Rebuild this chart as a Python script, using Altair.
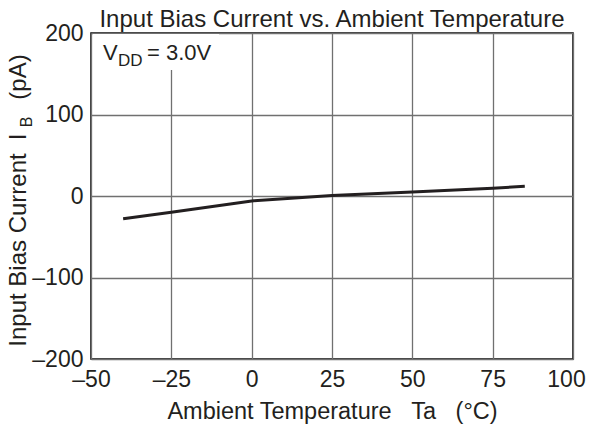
import altair as alt
import pandas as pd

temps = [-40, -25, 0, 25, 50, 75, 85]
ib_pa = [-28, -20, -6, 0.5, 5, 9.5, 12]

x_ticks = [-50, -25, 0, 25, 50, 75, 100]
y_ticks = [-200, -100, 0, 100, 200]

NB = "\u00a0"
title_text = "Input Bias Current vs. Ambient Temperature"
x_title = f"Ambient Temperature{NB*3}Ta{NB*3}(°C)"

FONT = "Liberation Sans"
INK = "#231f20"
W, H = 482, 326

df = pd.DataFrame({"t": temps, "ib": ib_pa})

minus_expr = "datum.value < 0 ? '\u2013' + abs(datum.value) : datum.label"

base = alt.Chart(df)

line = base.mark_line(color=INK, strokeWidth=3).encode(
    x=alt.X("t:Q", scale=alt.Scale(domain=[-50, 100], nice=False),
            axis=alt.Axis(values=x_ticks, title=x_title, labelExpr=minus_expr,
                          grid=True, ticks=False, domain=False, labelFlush=False,
                          labelOffset={"condition": {"test": "datum.value == 100", "value": -7}, "value": 0},
                          labelPadding=9, titlePadding=8)),
    y=alt.Y("ib:Q", scale=alt.Scale(domain=[-200, 200], nice=False),
            axis=alt.Axis(values=y_ticks, title=None, labelExpr=minus_expr,
                          grid=True, ticks=False, domain=False, labelFlush=False,
                          labelPadding=8)),
)

one = pd.DataFrame({"k": [0]})
cover = alt.Chart(one).mark_rect(color="white").encode(
    x=alt.value(2), x2=alt.value(128), y=alt.value(1), y2=alt.value(37)
)

def txt(s, x, y, size, angle=0, align="left", baseline="alphabetic"):
    return alt.Chart(one).mark_text(
        text=s, font=FONT, fontSize=size, color=INK, angle=angle,
        align=align, baseline=baseline
    ).encode(x=alt.value(x), y=alt.value(y))

labels = [
    txt(title_text, W / 2, -6, 24, align="center"),
    txt("V", 12, 27, 22),
    txt("DD", 27, 33, 17),
    txt("= 3.0V", 56, 27, 22),
    txt("Input Bias Current", -65, 217, 24, angle=270, align="center"),
    txt("I", -65, 104, 24, angle=270, align="center"),
    txt("B", -59, 89, 16, angle=270, align="center"),
    txt("(pA)", -65, 44, 24, angle=270, align="center"),
]

chart = alt.layer(line, cover, *labels).properties(
    width=W, height=H,
    autosize=alt.AutoSizeParams(type="none"),
    padding={"left": 83, "top": 25, "right": 13, "bottom": 69},
).configure_view(
    stroke="black", strokeWidth=1.5
).configure_axis(
    gridColor="#707070", gridWidth=1.3, gridOpacity=1,
    labelFont=FONT, labelFontSize=23, labelColor=INK,
    titleFont=FONT, titleFontSize=23.5, titleColor=INK, titleFontWeight="normal",
)

chart.save("out.html", embed_options={"renderer": "svg", "actions": False})
